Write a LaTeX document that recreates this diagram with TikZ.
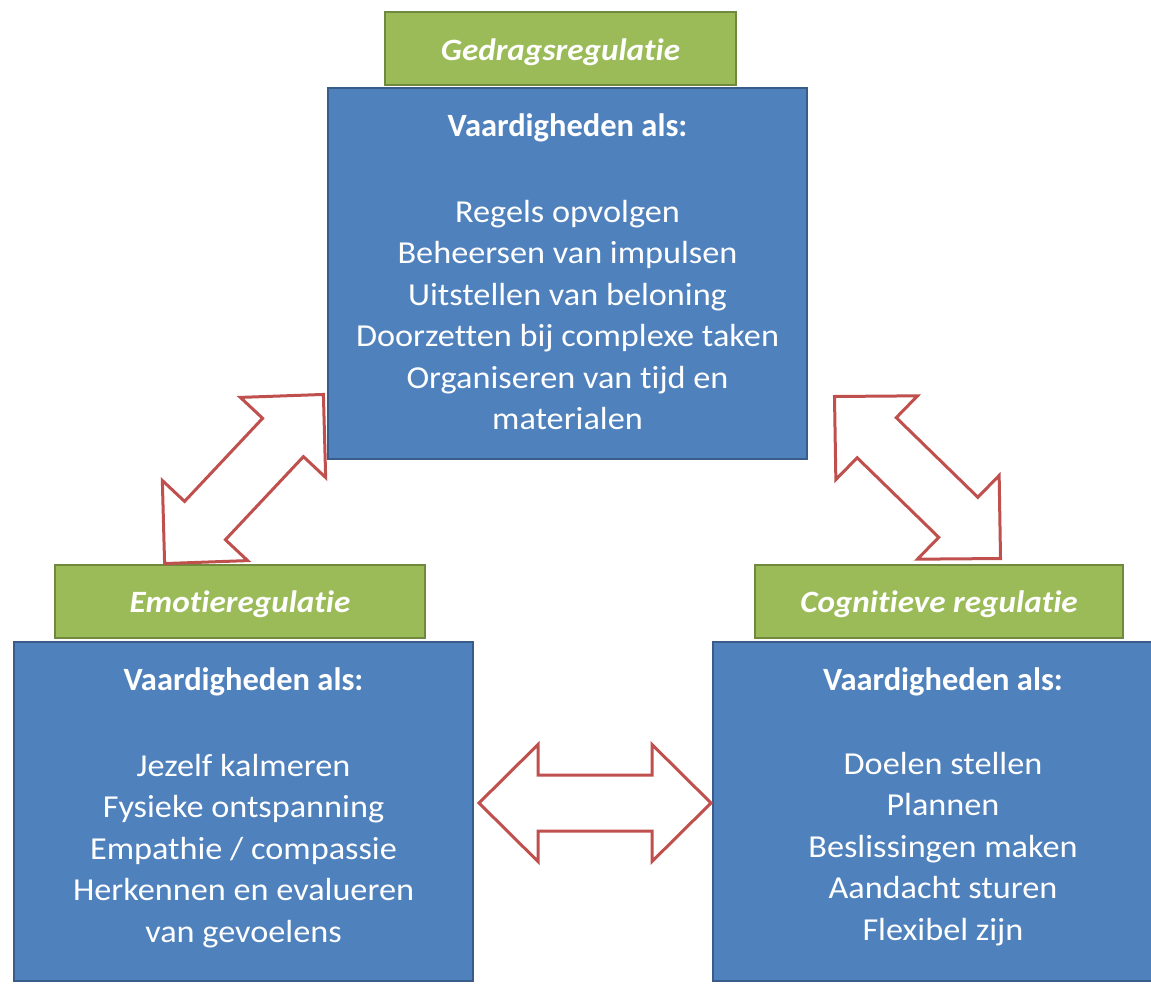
\documentclass[tikz,border=0pt]{standalone}
\usepackage{fontspec}
\setmainfont{Carlito}[Ligatures=NoCommon]
\newfontfamily\bodyfont{Carlito}[Ligatures=NoCommon, FakeStretch=1.07]
\newfontfamily\labelfont{Carlito}[Ligatures=NoCommon, FakeStretch=1.07]
\definecolor{boxblue}{HTML}{4F81BD}
\definecolor{boxblueline}{HTML}{385D8A}
\definecolor{labgreen}{HTML}{9BBB59}
\definecolor{labgreenline}{HTML}{71893F}
\definecolor{arrowred}{HTML}{C0504D}
\tikzset{
  bluebox/.style={draw=boxblueline, fill=boxblue, line width=2.5pt, rectangle, inner sep=0pt, outer sep=0pt, anchor=north west},
  greenbox/.style={draw=labgreenline, fill=labgreen, line width=2.5pt, rectangle, inner sep=0pt, outer sep=0pt, anchor=north west},
  labeltext/.style={text=white, font=\labelfont\fontsize{31}{38}\selectfont\bfseries\itshape, anchor=base, inner sep=0pt},
  titletext/.style={text=white, font=\fontsize{32.5}{40}\selectfont\bfseries, anchor=base, inner sep=0pt},
  bodytext/.style={text=white, font=\bodyfont\fontsize{32}{40}\selectfont, anchor=base, inner sep=0pt},
  arrowshape/.style={draw=arrowred, fill=white, line width=3pt, line join=miter},
  dblarrow/.pic={\draw[arrowshape] (-116,0) -- (-57,-58.5) -- (-57,-28) -- (57,-28) -- (57,-58.5) -- (116,0) -- (57,58.5) -- (57,28) -- (-57,28) -- (-57,58.5) -- cycle;}
}
\begin{document}
\begin{tikzpicture}[x=1pt,y=-1pt]
\useasboundingbox (0,0) rectangle (1151,983);
\fill[white] (0,0) rectangle (1151,983);
\clip (0,0) rectangle (1151,983);

% label boxes
\node[greenbox, minimum width=351pt, minimum height=73pt] (gtop) at (385,12) {};
\node[greenbox, minimum width=370pt, minimum height=73pt] (gleft) at (55,565) {};
\node[greenbox, minimum width=368pt, minimum height=73pt] (gright) at (755,565) {};

% blue boxes
\node[bluebox, minimum width=479pt, minimum height=371pt] (btop) at (328,88) {};
\node[bluebox, minimum width=459pt, minimum height=339pt] (bleft) at (14,642) {};
\node[bluebox, minimum width=460pt, minimum height=339pt] (bright) at (713,642) {};

% labels
\node[labeltext] (ltop) at ([yshift=-48pt]gtop.north) {Gedragsregulatie};
\node[labeltext] (lleft) at ([yshift=-47pt]gleft.north) {Emotieregulatie};
\node[labeltext] (lright) at ([yshift=-47pt]gright.north) {Cognitieve regulatie};

% titles
\node[titletext] (ttop) at ([yshift=-48pt]btop.north) {Vaardigheden als:};
\node[titletext] (tleft) at ([yshift=-48pt]bleft.north) {Vaardigheden als:};
\node[titletext] (tright) at ([yshift=-48pt]bright.north) {Vaardigheden als:};

% body lines
\foreach \t [count=\i] in {Regels opvolgen, Beheersen van impulsen, Uitstellen van beloning, Doorzetten bij complexe taken, Organiseren van tijd en, materialen}
  \node[bodytext] (top\i) at ([yshift={-(134+41.5*(\i-1))*1pt}]btop.north) {\t};
\foreach \t [count=\i] in {Jezelf kalmeren, Fysieke ontspanning, Empathie / compassie, Herkennen en evalueren, van gevoelens}
  \node[bodytext] (left\i) at ([yshift={-(134+41.5*(\i-1))*1pt}]bleft.north) {\t};
\foreach \t [count=\i] in {Doelen stellen, Plannen, Beslissingen maken, Aandacht sturen, Flexibel zijn}
  \node[bodytext] (right\i) at ([yshift={-(132+41.5*(\i-1))*1pt}]bright.north) {\t};

% block arrows
\pic[rotate=46.8] (arrL) at (244,479) {dblarrow};
\pic[rotate=-44.3] (arrR) at (917.5,477.5) {dblarrow};
\pic (arrB) at (595,803) {dblarrow};
\end{tikzpicture}
\end{document}
